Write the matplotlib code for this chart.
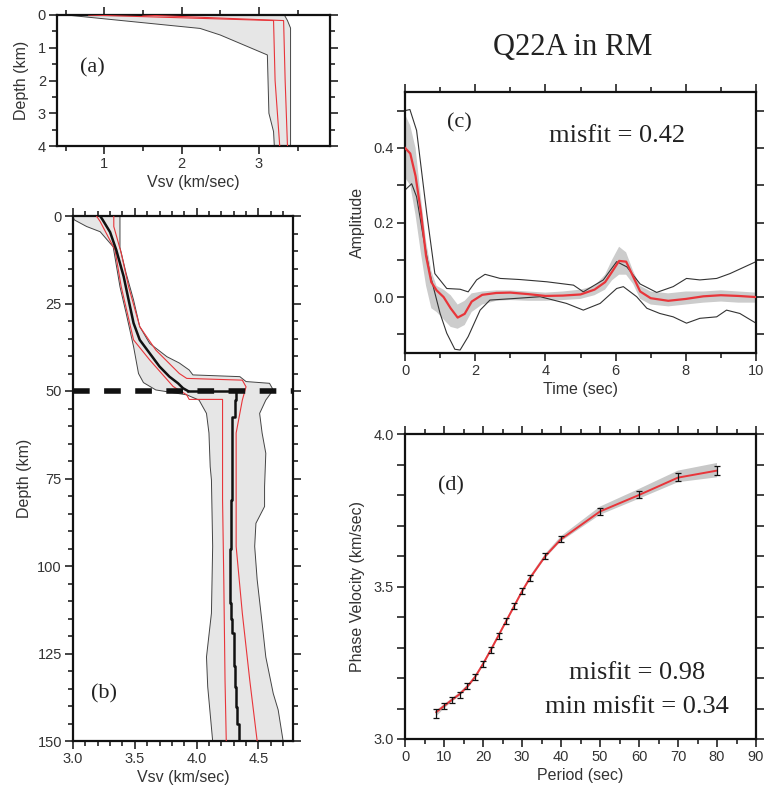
import matplotlib
matplotlib.use("Agg")
import matplotlib.pyplot as plt
from matplotlib.ticker import MultipleLocator
import numpy as np

# ---------------- Panel (a) data: shallow Vsv profile ----------------
a_left_vs = [0.51, 2.24, 2.50, 3.06, 3.11, 3.13, 3.19, 3.20]
a_left_z = [0.0, 0.41, 0.61, 1.17, 1.22, 3.0, 3.56, 4.0]
a_right_vs = [3.33, 3.37, 3.41, 3.41]
a_right_z = [0.0, 0.17, 0.40, 4.0]
a_red1_vs = [0.80, 3.19, 3.21, 3.27]
a_red1_z = [0.0, 0.17, 2.0, 4.0]
a_red2_vs = [1.50, 3.32, 3.34, 3.37]
a_red2_z = [0.0, 0.17, 2.0, 4.0]

# ---------------- Panel (b) data: Vsv to 150 km ----------------
b_left_vs = [3.00, 3.01, 3.11, 3.22, 3.325, 3.38, 3.43, 3.49, 3.53, 3.57, 3.67, 3.92,
             4.02, 4.08, 4.10, 4.11, 4.12, 4.13, 4.12, 4.08, 4.09, 4.13]
b_left_z = [0.0, 1.1, 3.0, 4.5, 8.8, 20.2, 27.8, 37.3, 45.0, 47.6, 49.7, 51.1,
            52.6, 56.4, 62.0, 71.6, 75.4, 94.4, 113.5, 126.0, 134.5, 150.0]
b_right_vs = [3.38, 3.38, 3.43, 3.49, 3.54, 3.62, 3.76, 3.86, 3.94, 3.97, 4.35, 4.40,
              4.59, 4.62, 4.56, 4.51, 4.53, 4.56, 4.55, 4.55, 4.48, 4.47, 4.49, 4.53,
              4.56, 4.62, 4.66, 4.70]
b_right_z = [0.0, 9.0, 16.4, 24.0, 31.6, 36.4, 40.2, 42.0, 44.0, 45.4, 45.9, 47.3,
             47.8, 49.7, 52.6, 56.4, 62.0, 67.8, 77.3, 83.0, 87.8, 94.4, 103.9, 116.3,
             126.0, 136.4, 141.1, 150.0]
# best-fitting model: crust (smooth) and mantle (layered)
b_crust_vs = [3.22, 3.24, 3.30, 3.35, 3.41, 3.45, 3.49, 3.54, 3.62, 3.70, 3.78, 3.85,
              3.89, 3.93]
b_crust_z = [0.0, 1.1, 4.6, 9.7, 17.3, 24.0, 30.6, 35.4, 39.2, 43.0, 45.9, 47.8,
             49.2, 50.0]
b_mantle_vs = [3.93, 4.32, 4.31, 4.29, 4.28, 4.27, 4.28, 4.29, 4.30, 4.31, 4.32, 4.33,
               4.34, 4.35]
b_mantle_z = [50.0, 50.0, 52.6, 57.3, 81.0, 95.0, 110.7, 115.0, 119.2, 128.7, 134.5,
              140.2, 145.0, 150.0]
b_red1_vs = [3.19, 3.22, 3.34, 3.39, 3.49, 3.62, 3.81, 3.92, 3.94, 4.21, 4.21, 4.22, 4.23, 4.24]
b_red1_z = [0.0, 1.6, 9.7, 20.2, 35.4, 41.1, 48.7, 51.1, 52.4, 52.4, 81.0, 103.9, 132.6, 150.0]
b_red2_vs = [3.33, 3.33, 3.39, 3.45, 3.54, 3.67, 3.86, 3.92, 4.37, 4.40, 4.37, 4.32,
             4.32, 4.32, 4.37, 4.43, 4.49]
b_red2_z = [0.0, 3.0, 10.6, 20.2, 31.6, 38.3, 45.0, 46.4, 46.9, 48.8, 52.6, 62.0,
            75.4, 94.4, 113.5, 132.6, 150.0]
moho_depth = 50.0

# ---------------- Panel (c) data: receiver function ----------------
c_time = [0, 0.15, 0.3, 0.45, 0.6, 0.75, 0.9, 1.1, 1.3, 1.5, 1.7, 1.9, 2.2, 2.6, 3.0,
          3.5, 4.0, 4.5, 5.0, 5.4, 5.7, 5.9, 6.1, 6.3, 6.5, 6.7, 7.0, 7.5, 8.0, 8.5,
          9.0, 9.5, 10]
c_pred = [0.40, 0.385, 0.325, 0.23, 0.11, 0.04, 0.018, 0.0, -0.03, -0.055, -0.045,
          -0.012, 0.006, 0.011, 0.012, 0.008, 0.003, 0.004, 0.007, 0.02, 0.04, 0.068,
          0.097, 0.095, 0.055, 0.015, -0.003, -0.01, -0.005, 0.002, 0.005, 0.003, 0.0]
c_obs_hi = [0.49, 0.46, 0.40, 0.27, 0.15, 0.07, 0.03, 0.02, 0.005, -0.02, -0.01, 0.01,
            0.015, 0.018, 0.018, 0.015, 0.012, 0.015, 0.02, 0.03, 0.06, 0.10, 0.135,
            0.12, 0.07, 0.03, 0.015, 0.01, 0.015, 0.015, 0.018, 0.015, 0.012]
c_obs_lo = [0.32, 0.30, 0.22, 0.12, 0.03, -0.03, -0.04, -0.06, -0.08, -0.085, -0.075,
            -0.04, -0.02, -0.01, -0.008, -0.01, -0.01, -0.008, -0.005, 0.005, 0.02,
            0.045, 0.06, 0.06, 0.035, -0.005, -0.02, -0.025, -0.02, -0.015, -0.012,
            -0.015, -0.015]
c_up_t = [0, 0.14, 0.33, 0.62, 0.85, 1.19, 1.57, 1.8, 2.04, 2.28, 2.71, 3.28, 4.04,
          4.8, 5.08, 5.65, 6.03, 6.32, 6.7, 7.17, 7.64, 8.02, 8.4, 8.88, 9.26, 10]
c_up_a = [0.50, 0.503, 0.447, 0.224, 0.063, 0.023, 0.021, 0.014, 0.046, 0.061, 0.05,
          0.047, 0.041, 0.032, 0.014, 0.046, 0.095, 0.081, 0.035, 0.0125, 0.028, 0.05,
          0.046, 0.05, 0.063, 0.095]
c_lo_t = [0.0, 0.19, 0.33, 0.52, 0.71, 1.0, 1.19, 1.42, 1.57, 1.8, 2.14, 2.42, 3.09,
          3.85, 4.6, 5.08, 5.56, 6.03, 6.22, 6.6, 6.89, 7.26, 7.64, 8.02, 8.4, 8.88,
          9.16, 9.54, 10]
c_lo_a = [0.287, 0.304, 0.269, 0.162, 0.063, -0.044, -0.097, -0.14, -0.142, -0.106,
          -0.035, -0.008, -0.004, 0.001, -0.017, -0.035, -0.017, 0.023, 0.028, 0.001,
          -0.03, -0.044, -0.053, -0.07, -0.057, -0.053, -0.035, -0.044, -0.07]

# ---------------- Panel (d) data: phase velocity dispersion ----------------
d_period = [8, 10, 12, 14, 16, 18, 20, 22, 24, 26, 28, 30, 32, 36, 40, 50, 60, 70, 80]
d_obs = [3.085, 3.107, 3.129, 3.145, 3.173, 3.203, 3.246, 3.291, 3.339, 3.386, 3.435,
         3.484, 3.528, 3.601, 3.656, 3.746, 3.801, 3.859, 3.881]
d_err = [0.015, 0.010, 0.010, 0.010, 0.010, 0.010, 0.010, 0.010, 0.010, 0.010, 0.010,
         0.010, 0.010, 0.010, 0.010, 0.011, 0.012, 0.013, 0.014]
d_pred = [3.088, 3.108, 3.128, 3.147, 3.172, 3.204, 3.246, 3.292, 3.340, 3.388, 3.436,
          3.484, 3.527, 3.600, 3.655, 3.746, 3.800, 3.857, 3.880]
d_band_hi = [3.094, 3.114, 3.134, 3.153, 3.178, 3.210, 3.252, 3.298, 3.346, 3.394,
             3.442, 3.490, 3.534, 3.608, 3.665, 3.762, 3.820, 3.880, 3.905]
d_band_lo = [3.074, 3.100, 3.122, 3.141, 3.166, 3.198, 3.240, 3.286, 3.334, 3.382,
             3.430, 3.478, 3.521, 3.594, 3.648, 3.735, 3.788, 3.842, 3.858]

# ---------------- style ----------------
SANS = ["Liberation Sans", "DejaVu Sans"]
SERIF = ["Liberation Serif", "DejaVu Serif"]
RED = "#e8353a"
TXT = "#333333"
plt.rcParams["font.family"] = SANS

fig = plt.figure(figsize=(7.68, 7.95), dpi=100)
W, H = 768.0, 795.0


def add_axes(l, t, r, b):
    return fig.add_axes([l / W, 1 - b / H, (r - l) / W, (b - t) / H])


def style(ax):
    for s in ax.spines.values():
        s.set_linewidth(1.6)
        s.set_color("#111111")
    ax.tick_params(which="both", direction="out", top=True, right=True,
                   labeltop=False, labelright=False, colors="#111111",
                   labelcolor=TXT, labelsize=10.5, width=1.1)
    ax.tick_params(which="major", length=6, pad=2)
    ax.tick_params(which="minor", length=3.5)


# Panel (a)
ax_a = add_axes(57, 15, 330, 146)
poly_x = list(a_left_vs) + list(a_right_vs[::-1])
poly_y = list(a_left_z) + list(a_right_z[::-1])
ax_a.fill(poly_x, poly_y, facecolor="#e6e6e6", edgecolor="none", zorder=1)
ax_a.plot(a_left_vs, a_left_z, color="#444444", lw=0.7, zorder=2)
ax_a.plot(a_right_vs, a_right_z, color="#444444", lw=0.7, zorder=2)
ax_a.plot(a_red1_vs, a_red1_z, color=RED, lw=0.8, zorder=3)
ax_a.plot(a_red2_vs, a_red2_z, color=RED, lw=0.8, zorder=3)
ax_a.set_xlim(0.39, 3.92)
ax_a.set_ylim(4, 0)
ax_a.xaxis.set_major_locator(MultipleLocator(1))
ax_a.xaxis.set_minor_locator(MultipleLocator(0.5))
ax_a.yaxis.set_major_locator(MultipleLocator(1))
ax_a.yaxis.set_minor_locator(MultipleLocator(0.5))
style(ax_a)
ax_a.set_xlabel("Vsv (km/sec)", fontsize=11.5, color=TXT, labelpad=3)
ax_a.set_ylabel("Depth (km)", fontsize=11.5, color=TXT, labelpad=6)
ax_a.text(0.13, 0.6, "(a)", transform=ax_a.transAxes, family=SERIF,
          fontsize=16, color="#222222", ha="center", va="center")

# Panel (b)
ax_b = add_axes(73, 216, 293, 741)
poly_x = list(b_left_vs) + list(b_right_vs[::-1])
poly_y = list(b_left_z) + list(b_right_z[::-1])
ax_b.fill(poly_x, poly_y, facecolor="#e6e6e6", edgecolor="none", zorder=1)
ax_b.plot(b_left_vs, b_left_z, color="#444444", lw=0.7, zorder=2)
ax_b.plot(b_right_vs, b_right_z, color="#444444", lw=0.7, zorder=2)
ax_b.plot(b_red1_vs, b_red1_z, color=RED, lw=0.8, zorder=3)
ax_b.plot(b_red2_vs, b_red2_z, color=RED, lw=0.8, zorder=3)
ax_b.plot(b_crust_vs, b_crust_z, color="#111111", lw=1.8, zorder=4)
ax_b.plot(b_mantle_vs, b_mantle_z, color="#111111", lw=1.8, drawstyle="steps-pre", zorder=4)
ax_b.axhline(moho_depth, color="#111111", lw=4.0, linestyle=(0, (3.0, 2.6)), zorder=5,
             clip_on=False)
ax_b.set_xlim(3.0, 4.78)
ax_b.set_ylim(150, 0)
ax_b.xaxis.set_major_locator(MultipleLocator(0.5))
ax_b.xaxis.set_minor_locator(MultipleLocator(0.1))
ax_b.yaxis.set_major_locator(MultipleLocator(25))
ax_b.yaxis.set_minor_locator(MultipleLocator(5))
ax_b.xaxis.set_major_formatter(plt.FuncFormatter(lambda v, p: f"{v:.1f}"))
style(ax_b)
ax_b.set_xlabel("Vsv (km/sec)", fontsize=11.5, color=TXT, labelpad=3)
ax_b.set_ylabel("Depth (km)", fontsize=11.5, color=TXT, labelpad=4)
ax_b.text(0.14, 0.09, "(b)", transform=ax_b.transAxes, family=SERIF,
          fontsize=16, color="#222222", ha="center", va="center")

# Panel (c)
ax_c = add_axes(405, 92, 756, 353)
ax_c.fill_between(c_time, c_obs_lo, c_obs_hi, facecolor="#cccccc", edgecolor="none", zorder=1)
ax_c.plot(c_up_t, c_up_a, color="#333333", lw=0.8, zorder=2)
ax_c.plot(c_lo_t, c_lo_a, color="#333333", lw=0.8, zorder=2)
ax_c.plot(c_time, c_pred, color=RED, lw=1.6, zorder=3)
ax_c.set_xlim(0, 10)
ax_c.set_ylim(-0.15, 0.55)
ax_c.xaxis.set_major_locator(MultipleLocator(2))
ax_c.xaxis.set_minor_locator(MultipleLocator(1))
ax_c.set_yticks([0.0, 0.2, 0.4])
ax_c.set_yticks([-0.1, 0.1, 0.3, 0.5], minor=True)
ax_c.yaxis.set_major_formatter(plt.FuncFormatter(lambda v, p: f"{v:.1f}"))
style(ax_c)
ax_c.tick_params(axis="y", which="minor", length=6)
ax_c.set_xlabel("Time (sec)", fontsize=11.5, color=TXT, labelpad=3)
ax_c.set_ylabel("Amplitude", fontsize=11.5, color=TXT, labelpad=6)
ax_c.text(0.155, 0.88, "(c)", transform=ax_c.transAxes, family=SERIF,
          fontsize=16, color="#222222", ha="center", va="center")
ax_c.text(0.605, 0.83, "misfit = 0.42", transform=ax_c.transAxes, family=SERIF,
          fontsize=19, color="#222222", ha="center", va="center")

fig.text(573 / W, 1 - 48 / H, "Q22A in RM", family=SERIF, fontsize=22,
         color="#222222", ha="center", va="center")

# Panel (d)
ax_d = add_axes(405, 434, 756, 739)
ax_d.fill_between(d_period, d_band_lo, d_band_hi, facecolor="#c8c8c8", edgecolor="none", zorder=1)
ax_d.plot(d_period, d_pred, color=RED, lw=1.4, zorder=2)
ax_d.errorbar(d_period, d_obs, yerr=d_err, fmt="none", ecolor="#111111",
              elinewidth=0.9, capsize=2.2, capthick=0.9, zorder=3)
ax_d.set_xlim(0, 90)
ax_d.set_ylim(3.0, 4.0)
ax_d.xaxis.set_major_locator(MultipleLocator(10))
ax_d.xaxis.set_minor_locator(MultipleLocator(5))
ax_d.yaxis.set_major_locator(MultipleLocator(0.5))
ax_d.yaxis.set_minor_locator(MultipleLocator(0.1))
ax_d.yaxis.set_major_formatter(plt.FuncFormatter(lambda v, p: f"{v:.1f}"))
style(ax_d)
ax_d.tick_params(axis="y", which="minor", length=6)
ax_d.set_xlabel("Period (sec)", fontsize=11.5, color=TXT, labelpad=3)
ax_d.set_ylabel("Phase Velocity (km/sec)", fontsize=11.5, color=TXT, labelpad=6)
ax_d.text(0.13, 0.83, "(d)", transform=ax_d.transAxes, family=SERIF,
          fontsize=16, color="#222222", ha="center", va="center")
ax_d.text(0.66, 0.215, "misfit = 0.98", transform=ax_d.transAxes, family=SERIF,
          fontsize=19, color="#222222", ha="center", va="center")
ax_d.text(0.66, 0.105, "min misfit = 0.34", transform=ax_d.transAxes, family=SERIF,
          fontsize=19, color="#222222", ha="center", va="center")

fig.savefig("out.png", dpi=100)
